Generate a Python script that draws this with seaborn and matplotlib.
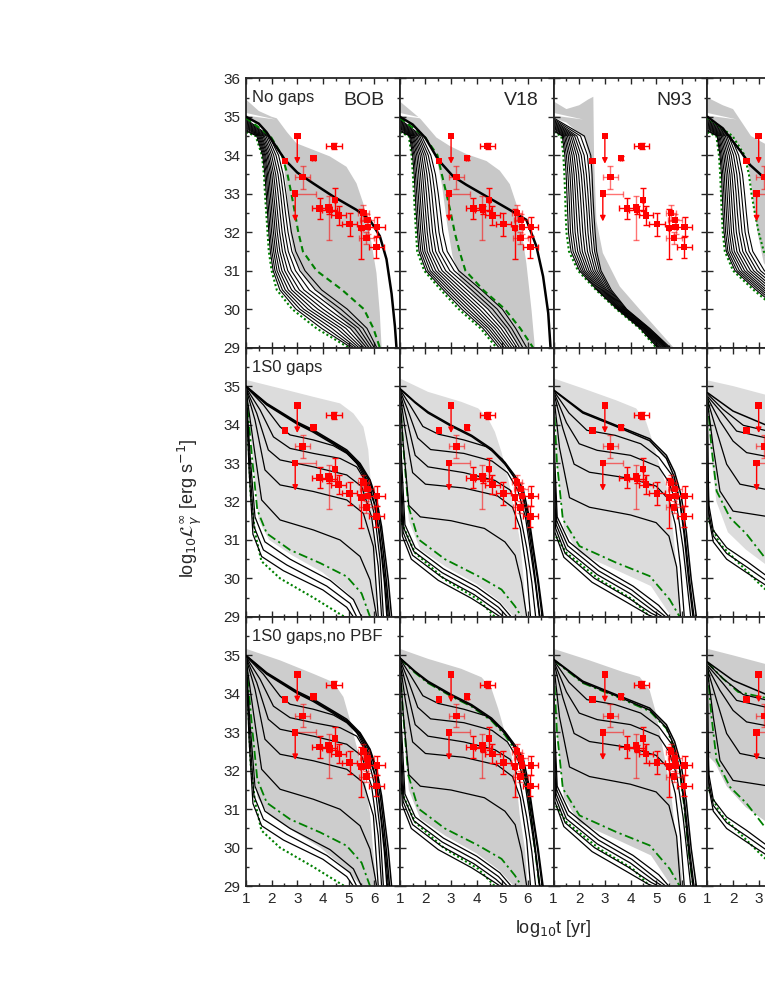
import numpy as np
import pandas as pd
import seaborn as sns
import matplotlib.pyplot as plt
from matplotlib.ticker import MultipleLocator, FuncFormatter

# ---------------- dados ----------------
# Linha 1 (No gaps): para cada curva, L em t=10 anos seguido do log t
# em que a curva cruza cada nivel de "levels"
levels = [34.5, 34.0, 33.5, 33.0, 32.5, 32.0, 31.5, 31.0, 30.5, 30.0, 29.5, 29.0]

bob_nogap = [
    [34.63, 1.42, 1.65, 1.74, 1.79, 1.84, 1.89, 1.95, 2.06, 2.32, 2.95, 3.95, 5.1],
    [34.66, 1.46, 1.69, 1.79, 1.84, 1.89, 1.94, 2.01, 2.13, 2.42, 3.1, 4.15, 5.2],
    [34.70, 1.5, 1.73, 1.84, 1.89, 1.95, 2.0, 2.08, 2.21, 2.53, 3.25, 4.35, 5.3],
    [34.73, 1.54, 1.77, 1.89, 1.95, 2.01, 2.07, 2.15, 2.3, 2.65, 3.42, 4.55, 5.4],
    [34.76, 1.58, 1.82, 1.95, 2.01, 2.08, 2.14, 2.23, 2.4, 2.78, 3.6, 4.72, 5.5],
    [34.79, 1.62, 1.87, 2.01, 2.08, 2.15, 2.22, 2.32, 2.51, 2.92, 3.8, 4.9, 5.6],
    [34.82, 1.67, 1.93, 2.08, 2.16, 2.23, 2.31, 2.42, 2.63, 3.08, 4.0, 5.07, 5.7],
    [34.85, 1.72, 2.0, 2.16, 2.25, 2.33, 2.41, 2.53, 2.77, 3.26, 4.22, 5.24, 5.8],
    [34.88, 1.78, 2.08, 2.25, 2.35, 2.43, 2.52, 2.65, 2.93, 3.47, 4.45, 5.4, 5.9],
    [34.91, 1.84, 2.17, 2.35, 2.45, 2.54, 2.64, 2.79, 3.1, 3.7, 4.7, 5.56, 6.0],
    [34.94, 1.9, 2.27, 2.45, 2.56, 2.66, 2.77, 2.94, 3.3, 3.95, 4.95, 5.72, 6.1],
]
bob_nogap_dotted = [34.6, 1.38, 1.62, 1.70, 1.74, 1.79, 1.84, 1.89, 2.0, 2.2, 2.8, 3.75, 5.0]
bob_nogap_dashed = [34.97, 1.95, 2.4, 2.62, 2.77, 2.91, 3.04, 3.22, 3.75, 4.75, 5.6, 5.97, 6.22]
bob_nogap_thick = [(1, 35.0), (1.5, 34.82), (1.8, 34.6), (2.1, 34.3), (2.52, 33.88), (3.0, 33.55),
                   (3.62, 33.27), (4.4, 32.93), (5.31, 32.58), (5.83, 32.32), (6.22, 31.9),
                   (6.48, 31.3), (6.68, 30.4), (6.81, 29.55), (6.87, 29.0)]

v18_nogap = [
    [34.63, 1.38, 1.5, 1.56, 1.6, 1.64, 1.69, 1.75, 2.02, 2.7, 3.42, 4.25, 4.87],
    [34.66, 1.41, 1.55, 1.61, 1.66, 1.7, 1.75, 1.82, 2.1, 2.8, 3.55, 4.36, 4.97],
    [34.70, 1.44, 1.6, 1.67, 1.72, 1.77, 1.82, 1.9, 2.19, 2.92, 3.68, 4.47, 5.07],
    [34.73, 1.48, 1.66, 1.74, 1.79, 1.84, 1.9, 1.98, 2.29, 3.04, 3.82, 4.58, 5.17],
    [34.76, 1.52, 1.72, 1.81, 1.87, 1.92, 1.98, 2.07, 2.4, 3.17, 3.96, 4.7, 5.27],
    [34.79, 1.56, 1.79, 1.89, 1.95, 2.01, 2.07, 2.17, 2.52, 3.31, 4.11, 4.82, 5.37],
    [34.82, 1.61, 1.86, 1.97, 2.04, 2.1, 2.17, 2.28, 2.65, 3.46, 4.27, 4.95, 5.47],
    [34.85, 1.66, 1.94, 2.06, 2.14, 2.21, 2.28, 2.4, 2.79, 3.62, 4.44, 5.08, 5.57],
    [34.88, 1.72, 2.02, 2.16, 2.25, 2.32, 2.4, 2.53, 2.95, 3.8, 4.62, 5.22, 5.67],
    [34.91, 1.78, 2.11, 2.27, 2.37, 2.45, 2.53, 2.68, 3.12, 3.98, 4.8, 5.36, 5.8],
    [34.94, 1.85, 2.21, 2.39, 2.5, 2.59, 2.68, 2.85, 3.3, 4.18, 5.0, 5.52, 5.95],
]
v18_nogap_dotted = [34.6, 1.35, 1.46, 1.51, 1.55, 1.59, 1.63, 1.68, 1.95, 2.6, 3.3, 4.15, 4.77]
v18_nogap_dashed = [34.97, 1.95, 2.47, 2.64, 2.82, 2.99, 3.14, 3.33, 3.56, 4.25, 5.1, 5.7, 6.2]
v18_nogap_thick = [(1, 35.0), (1.5, 34.8), (2.0, 34.45), (2.5, 33.88), (3.08, 33.45), (3.6, 33.23),
                   (4.38, 32.93), (5.29, 32.58), (5.94, 32.32), (6.33, 31.63), (6.59, 30.85),
                   (6.79, 29.9), (6.88, 29.0)]

n93_nogap = [
    [34.63, 1.34, 1.44, 1.49, 1.52, 1.55, 1.58, 1.68, 2.01, 2.69, 3.48, 4.38, 5.05],
    [34.66, 1.38, 1.5, 1.56, 1.6, 1.63, 1.66, 1.76, 2.08, 2.73, 3.51, 4.41, 5.1],
    [34.70, 1.43, 1.57, 1.64, 1.68, 1.71, 1.75, 1.85, 2.15, 2.78, 3.55, 4.45, 5.14],
    [34.73, 1.48, 1.64, 1.72, 1.76, 1.8, 1.84, 1.94, 2.22, 2.83, 3.58, 4.48, 5.19],
    [34.76, 1.54, 1.72, 1.8, 1.85, 1.89, 1.94, 2.03, 2.3, 2.88, 3.61, 4.51, 5.23],
    [34.79, 1.6, 1.8, 1.89, 1.94, 1.99, 2.04, 2.12, 2.38, 2.93, 3.64, 4.54, 5.28],
    [34.82, 1.67, 1.89, 1.98, 2.04, 2.09, 2.14, 2.22, 2.46, 2.98, 3.68, 4.58, 5.32],
    [34.85, 1.74, 1.98, 2.08, 2.14, 2.19, 2.24, 2.32, 2.54, 3.03, 3.71, 4.61, 5.37],
    [34.88, 1.82, 2.08, 2.18, 2.24, 2.3, 2.34, 2.42, 2.62, 3.08, 3.75, 4.65, 5.41],
    [34.91, 1.91, 2.19, 2.28, 2.34, 2.39, 2.44, 2.51, 2.7, 3.14, 3.78, 4.68, 5.46],
    [34.94, 2.05, 2.32, 2.39, 2.44, 2.48, 2.53, 2.6, 2.78, 3.19, 3.82, 4.72, 5.5],
    [34.97, 2.2, 2.45, 2.5, 2.53, 2.57, 2.62, 2.68, 2.85, 3.25, 3.85, 4.75, 5.55],
]
n93_nogap_dotted = [34.6, 1.3, 1.38, 1.42, 1.45, 1.47, 1.5, 1.6, 1.95, 2.65, 3.45, 4.35, 5.0]

c4_nogap = [
    [34.63, 1.38, 1.49, 1.55, 1.58, 1.61, 1.65, 1.74, 2.08, 2.9, 3.8, 4.6, 5.2],
    [34.66, 1.41, 1.53, 1.6, 1.64, 1.67, 1.71, 1.8, 2.16, 3.0, 3.9, 4.7, 5.3],
    [34.70, 1.45, 1.58, 1.66, 1.7, 1.74, 1.78, 1.88, 2.25, 3.1, 4.0, 4.8, 5.4],
    [34.73, 1.49, 1.64, 1.73, 1.77, 1.81, 1.86, 1.96, 2.35, 3.2, 4.1, 4.9, 5.5],
    [34.76, 1.54, 1.7, 1.8, 1.85, 1.89, 1.94, 2.05, 2.45, 3.3, 4.2, 5.0, 5.6],
    [34.79, 1.59, 1.77, 1.88, 1.93, 1.98, 2.03, 2.15, 2.56, 3.42, 4.3, 5.1, 5.7],
    [34.82, 1.64, 1.85, 1.96, 2.02, 2.07, 2.13, 2.26, 2.68, 3.54, 4.4, 5.2, 5.8],
    [34.85, 1.7, 1.93, 2.05, 2.12, 2.17, 2.24, 2.38, 2.8, 3.66, 4.5, 5.3, 5.9],
    [34.88, 1.76, 2.02, 2.15, 2.22, 2.28, 2.35, 2.5, 2.93, 3.8, 4.6, 5.4, 6.0],
    [34.91, 1.83, 2.12, 2.26, 2.33, 2.4, 2.47, 2.63, 3.07, 3.95, 4.7, 5.5, 6.1],
    [34.94, 1.9, 2.22, 2.37, 2.45, 2.52, 2.6, 2.77, 3.22, 4.1, 4.8, 5.6, 6.2],
]
c4_nogap_dotted = [34.6, 1.35, 1.45, 1.5, 1.53, 1.56, 1.6, 1.68, 2.0, 2.8, 3.7, 4.5, 5.1]
c4_nogap_right = [34.97, 1.98, 2.45, 2.62, 2.72, 2.85, 3.0, 3.2, 3.6, 4.3, 5.0, 5.7, 6.3]
c4_nogap_thick = [(1, 35.0), (1.6, 34.7), (2.3, 34.1), (2.66, 33.75), (3.24, 33.4), (3.6, 33.2)]

# Linhas 2 e 3 (1S0 gaps): curvas como listas de pontos (log t, log L)
bob_gap_bundle = [
    [(1, 35.0), (1.81, 34.55), (2.98, 34.07), (3.63, 33.86), (4.41, 33.55), (4.93, 33.34), (5.45, 32.99),
     (5.84, 32.56), (6.1, 32.04), (6.29, 31.35), (6.42, 30.66), (6.55, 29.96), (6.68, 29.0)],
    [(1, 34.99), (1.81, 34.53), (2.98, 34.04), (3.63, 33.83), (4.41, 33.52), (4.93, 33.3), (5.45, 32.95),
     (5.84, 32.5), (6.08, 31.98), (6.25, 31.3), (6.37, 30.6), (6.48, 29.9), (6.6, 29.0)],
    [(1, 34.98), (1.81, 34.51), (2.98, 34.02), (3.63, 33.8), (4.41, 33.49), (4.93, 33.27), (5.45, 32.9),
     (5.8, 32.45), (6.03, 31.9), (6.18, 31.25), (6.29, 30.6), (6.4, 29.9), (6.5, 29.0)],
]
bob_gap_curves = [
    [(1, 34.98), (1.68, 34.51), (2.33, 33.94), (2.72, 33.73), (3.63, 33.6), (4.41, 33.45), (4.93, 33.25),
     (5.32, 33.0), (5.71, 32.5), (6.0, 31.95), (6.2, 31.2), (6.33, 30.5), (6.45, 29.8), (6.55, 29.0)],
    [(1, 34.96), (1.55, 34.38), (2.07, 33.68), (2.72, 33.38), (3.63, 33.25), (4.67, 33.12), (5.32, 32.9),
     (5.71, 32.47), (6.03, 31.6), (6.23, 30.48), (6.36, 29.0)],
    [(1, 34.94), (1.42, 34.29), (1.87, 33.34), (2.33, 33.08), (3.63, 32.9), (4.93, 32.69), (5.51, 32.39),
     (5.9, 31.6), (6.16, 30.31), (6.29, 29.0)],
    [(1, 34.93), (1.35, 34.12), (1.74, 32.82), (2.33, 32.43), (3.63, 32.26), (4.93, 32.04), (5.58, 31.69),
     (5.97, 30.83), (6.16, 29.0)],
    [(1, 34.91), (1.29, 33.51), (1.61, 32.04), (2.33, 31.52), (3.63, 31.26), (4.67, 31.0), (5.45, 30.57),
     (5.84, 29.96), (6.1, 29.0)],
    [(1, 34.88), (1.16, 33.2), (1.35, 31.6), (1.74, 30.95), (2.72, 30.5), (4.28, 29.95), (5.19, 29.45), (5.51, 29.0)],
    [(1, 34.86), (1.14, 33.0), (1.31, 31.35), (1.68, 30.74), (2.59, 30.35), (4.15, 29.8), (5.06, 29.35), (5.32, 29.0)],
    [(1, 34.84), (1.12, 32.8), (1.27, 31.15), (1.61, 30.57), (2.46, 30.2), (4.0, 29.7), (4.93, 29.25), (5.19, 29.0)],
]
bob_gap_dashdot = [(1, 34.9), (1.22, 33.25), (1.44, 31.78), (1.81, 31.17), (2.72, 30.74), (3.89, 30.4),
                   (4.93, 30.05), (5.51, 29.61), (5.84, 29.0)]
bob_gap_dotted = [(1, 34.8), (1.08, 33.8), (1.18, 32.2), (1.35, 31.2), (1.6, 30.45), (2.33, 30.0),
                  (3.63, 29.5), (4.6, 29.1), (4.85, 29.0)]

v18_gap_bundle = [
    [(1, 34.94), (1.59, 34.59), (2.1, 34.33), (3.02, 33.98), (3.8, 33.72), (4.58, 33.37), (5.1, 33.02),
     (5.49, 32.67), (5.81, 32.33), (6.01, 31.72), (6.2, 30.84), (6.4, 29.97), (6.59, 29.0)],
    [(1, 34.93), (1.59, 34.57), (2.1, 34.3), (3.02, 33.95), (3.8, 33.69), (4.58, 33.33), (5.1, 32.97),
     (5.49, 32.6), (5.78, 32.2), (5.96, 31.6), (6.13, 30.8), (6.3, 29.9), (6.46, 29.0)],
]
v18_gap_curves = [
    [(1, 34.92), (1.4, 34.5), (1.9, 33.95), (2.5, 33.75), (3.5, 33.6), (4.4, 33.42), (5.0, 33.1), (5.4, 32.7),
     (5.75, 32.3), (5.98, 31.7), (6.17, 30.85), (6.37, 29.97), (6.55, 29.0)],
    [(1, 34.9), (1.3, 34.4), (1.7, 33.65), (2.2, 33.35), (3.5, 33.25), (4.6, 33.05), (5.2, 32.75), (5.6, 32.3),
     (5.9, 31.6), (6.1, 30.7), (6.3, 29.8), (6.45, 29.0)],
    [(1, 34.88), (1.25, 34.2), (1.6, 33.2), (2.1, 32.9), (3.5, 32.75), (4.7, 32.55), (5.3, 32.3), (5.65, 31.8),
     (5.95, 30.8), (6.15, 29.9), (6.3, 29.0)],
    [(1, 34.86), (1.2, 33.9), (1.5, 32.75), (2.0, 32.45), (3.5, 32.35), (4.8, 32.15), (5.4, 31.85), (5.7, 31.3),
     (5.95, 30.2), (6.1, 29.0)],
    [(1, 34.84), (1.12, 33.6), (1.35, 31.9), (1.8, 31.6), (3.0, 31.5), (4.3, 31.3), (5.1, 30.95), (5.5, 30.6),
     (5.75, 29.9), (5.95, 29.0)],
    [(1, 34.75), (1.06, 33.2), (1.2, 31.4), (1.6, 30.8), (2.7, 30.25), (4.0, 29.78), (4.9, 29.35), (5.35, 29.0)],
    [(1, 34.5), (1.05, 32.8), (1.16, 31.3), (1.55, 30.7), (2.65, 30.15), (3.95, 29.68), (4.85, 29.25), (5.2, 29.0)],
    [(1, 34.0), (1.05, 32.3), (1.13, 31.2), (1.5, 30.6), (2.6, 30.05), (3.9, 29.58), (4.75, 29.18), (5.05, 29.0)],
    [(1, 33.3), (1.05, 31.8), (1.1, 31.1), (1.45, 30.5), (2.5, 29.95), (3.8, 29.48), (4.65, 29.12), (4.92, 29.0)],
]
v18_gap_dashdot = [(1, 34.76), (1.13, 33.46), (1.33, 31.89), (1.72, 31.02), (2.76, 30.5), (4.06, 30.06),
                   (4.97, 29.71), (5.49, 29.28), (5.75, 29.0)]
v18_gap_dotted = [(1, 31.55), (1.59, 30.67), (2.76, 29.97), (4.06, 29.45), (4.71, 29.0)]

n93_gap_bundle = [
    [(1, 34.9), (2.14, 34.33), (3.44, 33.98), (4.75, 33.63), (5.4, 33.2), (5.72, 32.76), (5.98, 32.15),
     (6.18, 31.19), (6.37, 29.97), (6.57, 29.0)],
    [(1, 34.89), (2.14, 34.3), (3.44, 33.95), (4.75, 33.58), (5.4, 33.12), (5.7, 32.65), (5.93, 32.0),
     (6.1, 31.1), (6.27, 29.95), (6.44, 29.0)],
]
n93_gap_curves = [
    [(1, 34.88), (1.6, 34.3), (2.3, 33.85), (3.4, 33.72), (4.4, 33.5), (5.1, 33.15), (5.6, 32.7), (5.9, 32.1),
     (6.12, 31.15), (6.3, 30.0), (6.48, 29.0)],
    [(1, 34.86), (1.5, 34.05), (2.0, 33.5), (2.7, 33.33), (4.0, 33.2), (5.1, 32.9), (5.5, 32.5), (5.8, 31.9),
     (6.05, 30.8), (6.2, 29.9), (6.35, 29.0)],
    [(1, 34.84), (1.36, 33.9), (1.8, 32.97), (2.4, 32.76), (4.0, 32.6), (5.0, 32.4), (5.5, 32.05), (5.75, 31.4),
     (5.95, 30.3), (6.1, 29.0)],
    [(1, 34.8), (1.23, 33.4), (1.62, 32.1), (2.4, 31.85), (4.0, 31.65), (5.0, 31.45), (5.5, 31.1), (5.8, 30.3),
     (5.95, 29.0)],
    [(1, 34.7), (1.05, 33.0), (1.14, 31.6), (1.6, 30.95), (2.8, 30.3), (4.1, 29.8), (5.1, 29.3), (5.5, 29.0)],
    [(1, 34.2), (1.05, 32.5), (1.12, 31.5), (1.55, 30.85), (2.75, 30.2), (4.05, 29.7), (5.0, 29.2), (5.38, 29.0)],
    [(1, 33.6), (1.05, 32.0), (1.1, 31.4), (1.5, 30.75), (2.7, 30.1), (4.0, 29.6), (4.9, 29.15), (5.25, 29.0)],
    [(1, 33.0), (1.04, 31.8), (1.08, 31.3), (1.45, 30.65), (2.6, 30.0), (3.9, 29.5), (4.8, 29.1), (5.1, 29.0)],
    [(1, 32.3), (1.05, 31.2), (1.4, 30.55), (2.5, 29.9), (3.8, 29.4), (4.7, 29.05), (4.9, 29.0)],
]
n93_gap_dashdot = [(1, 34.68), (1.13, 33.02), (1.36, 31.54), (2.01, 30.84), (3.44, 30.41), (4.75, 30.06),
                   (5.53, 29.45), (5.92, 29.0)]
n93_gap_dotted = [(1, 31.19), (1.49, 30.67), (2.79, 29.97), (4.09, 29.45), (4.75, 29.0)]

c4_gap_bundle = [[(1, 34.83), (2.0, 34.35), (3.24, 34.0), (3.6, 33.9)]]
c4_gap_curves = [
    [(1, 34.8), (1.6, 34.4), (2.4, 33.98), (3.24, 33.85), (3.6, 33.8)],
    [(1, 34.74), (1.62, 34.26), (2.14, 33.83), (3.24, 33.66), (3.6, 33.6)],
    [(1, 34.7), (1.49, 34.09), (2.0, 33.57), (2.53, 33.27), (3.24, 33.18), (3.6, 33.15)],
    [(1, 34.65), (1.36, 33.83), (1.75, 32.97), (2.27, 32.45), (3.24, 32.32), (3.6, 32.28)],
    [(1, 34.6), (1.23, 33.4), (1.49, 32.27), (2.0, 31.75), (3.24, 31.62), (3.6, 31.58)],
    [(1, 34.6), (1.02, 33.0), (1.06, 31.9), (1.23, 31.25), (1.75, 30.8), (2.53, 30.45), (3.24, 30.1), (3.6, 29.95)],
    [(1, 34.4), (1.02, 32.5), (1.06, 31.7), (1.23, 31.1), (1.75, 30.65), (2.53, 30.3), (3.24, 29.97), (3.6, 29.82)],
    [(1, 33.8), (1.03, 32.0), (1.06, 31.55), (1.23, 30.95), (1.75, 30.5), (2.53, 30.15), (3.24, 29.84), (3.6, 29.7)],
]
c4_gap_dashdot = [(1, 34.7), (1.16, 33.4), (1.36, 32.27), (1.88, 31.58), (2.53, 31.15), (3.24, 30.54), (3.6, 30.3)]
c4_gap_dotted = [(1, 31.58), (1.49, 30.89), (2.27, 30.37), (3.18, 29.76), (3.6, 29.55)]

# linha 3: traco-ponto verde que acompanha o feixe superior
v18_nopbf_top = [(1, 34.92), (1.59, 34.55), (2.1, 34.28), (3.02, 33.93), (3.8, 33.67), (4.58, 33.3),
                 (5.1, 32.93), (5.49, 32.55), (5.78, 32.15), (5.96, 31.5), (6.13, 30.7), (6.3, 29.8), (6.45, 29.0)]
n93_nopbf_top = [(1, 34.88), (2.14, 34.28), (3.44, 33.93), (4.75, 33.55), (5.4, 33.1), (5.7, 32.6),
                 (5.93, 31.95), (6.1, 31.05), (6.27, 29.9), (6.44, 29.0)]
c4_nopbf_top = [(1, 34.82), (1.6, 34.4), (2.2, 34.05), (3.24, 33.9), (3.6, 33.85)]

# regioes cinzas (contorno do poligono)
gray_r1_bob = [(1, 35.45), (1.5, 35.15), (2.0, 35.0), (2.2, 34.96), (2.6, 34.6), (2.97, 34.31), (3.62, 34.14),
               (4.27, 33.97), (4.92, 33.7), (5.31, 33.27), (5.57, 32.76), (5.83, 31.98), (6.09, 30.94),
               (6.22, 29.9), (6.29, 29.0), (5.5, 29.0), (5.3, 29.3), (4.7, 29.8), (4.0, 30.3), (3.3, 30.8),
               (2.9, 31.3), (2.72, 32.0), (2.6, 33.0), (2.45, 33.9), (2.1, 34.3), (1.8, 34.6), (1.4, 34.85), (1, 35.0)]
gray_r1_v18 = [(1, 35.4), (1.5, 35.12), (1.8, 34.95), (2.43, 34.46), (2.95, 34.24), (3.6, 34.03), (4.38, 33.85),
               (4.9, 33.6), (5.29, 33.25), (5.55, 32.73), (5.75, 32.04), (5.94, 31.18), (6.14, 29.97), (6.27, 29.0),
               (5.7, 29.0), (5.3, 29.35), (4.6, 29.9), (3.9, 30.35), (3.35, 30.8), (3.05, 31.4), (2.85, 32.2),
               (2.65, 33.2), (2.45, 33.88), (2.0, 34.45), (1.5, 34.8), (1, 35.0)]
gray_r1_n93 = [(1, 35.4), (1.5, 35.2), (2.0, 35.3), (2.35, 35.45), (2.55, 35.52), (2.58, 33.9), (2.67, 32.3),
               (2.92, 31.46), (3.58, 30.59), (4.48, 29.9), (5.68, 29.0), (5.5, 29.0), (4.7, 29.5),
               (3.8, 30.0), (3.2, 30.5), (2.8, 31.0), (2.62, 31.5), (2.55, 32.0), (2.48, 33.0),
               (2.42, 33.9), (2.2, 34.45), (1.5, 34.85), (1, 34.97)]
gray_r1_c4 = [(1, 35.5), (1.6, 35.3), (2.0, 35.2), (2.4, 34.8), (2.7, 34.5), (3.24, 34.3), (3.6, 34.15),
              (3.6, 30.8), (3.2, 31.2), (2.95, 32.0), (2.75, 33.0), (2.6, 33.7), (2.35, 34.15), (1.8, 34.6),
              (1.4, 34.85), (1, 34.97)]
sliver_r1 = [(1, 35.03), (2.15, 34.93), (1, 35.1)]

gray_r2_bob = [(1, 35.16), (2.33, 34.94), (3.63, 34.72), (4.67, 34.55), (5.19, 34.29), (5.58, 33.94), (5.77, 33.34),
               (5.9, 32.21), (6.03, 30.83), (6.1, 29.0), (5.6, 29.0), (5.0, 29.6), (4.0, 30.15), (2.8, 30.6),
               (1.9, 31.0), (1.5, 31.5), (1.3, 32.8), (1.12, 34.2), (1, 34.9)]
gray_r2_v18 = [(1, 35.2), (2.1, 34.85), (3.4, 34.59), (4.06, 34.42), (4.45, 34.15), (4.71, 33.81), (4.97, 33.28),
               (5.23, 32.59), (5.49, 31.72), (5.68, 31.02), (5.81, 30.15), (5.94, 29.0), (5.45, 29.0), (4.9, 29.4),
               (4.0, 29.85), (2.8, 30.3), (1.8, 30.75), (1.35, 31.5), (1.15, 33.0), (1.03, 34.5), (1, 34.8)]
gray_r2_n93 = [(1, 35.2), (2.14, 34.94), (3.44, 34.63), (4.22, 34.42), (4.61, 34.07), (4.87, 33.55), (5.13, 32.94),
               (5.4, 32.41), (5.59, 31.72), (5.72, 30.84), (5.85, 29.97), (5.98, 29.0), (5.6, 29.0), (4.8, 29.8),
               (3.5, 30.2), (2.0, 30.65), (1.4, 31.3), (1.15, 32.8), (1.03, 34.4), (1, 34.7)]
gray_r2_c4 = [(1, 35.15), (2.0, 35.0), (3.24, 34.78), (3.6, 34.7), (3.6, 30.2), (2.5, 30.75), (1.8, 31.2),
              (1.35, 32.0), (1.1, 33.5), (1, 34.6)]
gray_r3_bob = [(1, 35.17), (2.33, 34.87), (3.63, 34.52), (4.41, 34.3), (4.8, 33.92), (5.06, 33.31), (5.32, 32.62),
               (5.64, 31.75), (5.84, 30.89), (5.97, 29.85), (6.1, 29.0), (5.5, 29.0), (4.8, 29.5), (3.9, 30.0),
               (2.8, 30.45), (1.9, 30.85), (1.45, 31.3), (1.22, 32.5), (1.08, 34.0), (1, 34.5)]
gray_r3_v18 = [(1, 35.17), (2.1, 34.91), (3.4, 34.65), (4.19, 34.43), (4.58, 34.13), (4.84, 33.61), (5.1, 33.0),
               (5.36, 32.4), (5.55, 31.71), (5.68, 30.84), (5.88, 29.98), (6.0, 29.0), (5.45, 29.0), (4.9, 29.4),
               (4.0, 29.85), (2.8, 30.3), (1.8, 30.75), (1.35, 31.5), (1.15, 33.0), (1.03, 34.5), (1, 34.8)]
gray_r3_n93 = [(1, 35.17), (2.4, 34.87), (3.7, 34.57), (4.36, 34.44), (4.75, 34.09), (5.0, 33.49), (5.2, 32.8),
               (5.4, 32.1), (5.59, 31.4), (5.72, 30.55), (5.92, 29.76), (6.05, 29.0), (5.6, 29.0), (4.8, 29.8),
               (3.5, 30.2), (2.0, 30.65), (1.4, 31.3), (1.15, 32.8), (1.03, 34.4), (1, 34.7)]
gray_r3_c4 = [(1, 35.17), (2.0, 35.0), (3.24, 34.78), (3.6, 34.7), (3.6, 30.5), (3.24, 30.7), (2.5, 31.05),
              (1.75, 31.6), (1.3, 32.2), (1, 32.4)]

# fontes observacionais
obs_x = [2.52, 3.00, 4.43, 3.63, 3.21, 2.92, 3.87, 4.22, 4.25, 4.48, 4.61, 5.04, 5.58, 5.73, 5.50, 5.76, 5.70, 6.11, 6.09]
obs_y = [33.85, 34.50, 34.24, 33.93, 33.43, 33.00, 32.62, 32.66, 32.58, 32.84, 32.44, 32.21, 32.50, 32.32, 32.11,
         32.14, 31.85, 32.14, 31.61]
obs_xlo = [0, 0, 0.3, 0.05, 0.3, 0, 0.3, 0.05, 0.3, 0.05, 0.28, 0.3, 0.2, 0.27, 0.05, 0.05, 0.3, 0.3, 0.29]
obs_xhi = [0, 0, 0.3, 0.05, 0.3, 0.8, 0.3, 0.05, 0.3, 0.05, 0.28, 0.3, 0.2, 0.27, 0.05, 0.05, 0.3, 0.3, 0.29]
obs_ylo = [0, 0, 0.09, 0.06, 0.3, 0, 0.28, 0.86, 0.1, 0.3, 0.25, 0.3, 0.2, 0.15, 0.8, 0.2, 0.15, 0.25, 0.27]
obs_yhi = [0, 0, 0.09, 0.06, 0.3, 0, 0.28, 0.29, 0.1, 0.3, 0.25, 0.3, 0.2, 0.15, 0.5, 0.2, 0.15, 0.25, 0.27]
obs_limit = [1, 5]          # limites superiores (seta para baixo)
obs_faded = [4, 5, 7, 12, 13, 15, 16]
limit_len = 0.72

row_labels = ['No gaps', '1S0 gaps', '1S0 gaps,no PBF']
model_titles = ['BOB', 'V18', 'N93', '']

# ---------------- funcoes ----------------
def level_frame(table):
    rows = []
    for k, row in enumerate(table):
        rows.append((k, 1.0, row[0]))
        for x, lv in zip(row[1:], levels):
            if lv < row[0]:
                rows.append((k, x, lv))
    return pd.DataFrame(rows, columns=['curve', 'x', 'y'])


def point_frame(curves):
    rows = [(k, x, y) for k, c in enumerate(curves) for x, y in c]
    return pd.DataFrame(rows, columns=['curve', 'x', 'y'])


def draw(ax, df, **kw):
    sns.lineplot(data=df, x='x', y='y', units='curve', estimator=None, sort=False,
                 ax=ax, legend=False, **kw)


GREEN = '#008000'
DASHDOT = (0, (5, 2, 1.2, 2))
DOTTED = (0, (1, 1.2))
DASHED = (0, (3, 2))

sns.set_style('ticks')
plt.rcParams['font.family'] = ['Liberation Sans', 'DejaVu Sans']
plt.rcParams['mathtext.fontset'] = 'dejavusans'

fig = plt.figure(figsize=(7.65, 9.9), dpi=100)
W, H = 765, 990
col_left = [246 + 153.8 * c for c in range(4)]
row_top = [78.3, 347.6, 616.9]
pw, ph = 153.8, 269.3

grays = [[gray_r1_bob, gray_r1_v18, gray_r1_n93, gray_r1_c4],
         [gray_r2_bob, gray_r2_v18, gray_r2_n93, gray_r2_c4],
         [gray_r3_bob, gray_r3_v18, gray_r3_n93, gray_r3_c4]]
gray_colors = ['#c8c8c8', '#dcdcdc', '#cdcdcd']
nogap_sets = [(bob_nogap, bob_nogap_dotted, bob_nogap_dashed, DASHED, bob_nogap_thick),
              (v18_nogap, v18_nogap_dotted, v18_nogap_dashed, DASHED, v18_nogap_thick),
              (n93_nogap, n93_nogap_dotted, None, None, None),
              (c4_nogap, c4_nogap_dotted, c4_nogap_right, DOTTED, c4_nogap_thick)]
gap_sets = [(bob_gap_bundle, bob_gap_curves, bob_gap_dashdot, bob_gap_dotted, None),
            (v18_gap_bundle, v18_gap_curves, v18_gap_dashdot, v18_gap_dotted, v18_nopbf_top),
            (n93_gap_bundle, n93_gap_curves, n93_gap_dashdot, n93_gap_dotted, n93_nopbf_top),
            (c4_gap_bundle, c4_gap_curves, c4_gap_dashdot, c4_gap_dotted, c4_nopbf_top)]

for r in range(3):
    for c in range(4):
        ax = fig.add_axes([col_left[c] / W, 1 - (row_top[r] + ph) / H, pw / W, ph / H])
        gx, gy = zip(*grays[r][c])
        ax.fill(gx, gy, color=gray_colors[r], lw=0, zorder=0)

        if r == 0:
            sx, sy = zip(*sliver_r1)
            ax.fill(sx, sy, color='white', lw=0, zorder=0.5)
            fam, dotted, right, right_ls, thick = nogap_sets[c]
            draw(ax, level_frame([dotted]), color=GREEN, lw=1.5, linestyle=DOTTED, zorder=2)
            draw(ax, level_frame(fam), color='black', lw=0.8, zorder=2.5)
            if right is not None:
                draw(ax, level_frame([right]), color=GREEN, lw=1.5, linestyle=right_ls, zorder=2.6)
            if thick is not None:
                draw(ax, point_frame([thick]), color='black', lw=1.8, zorder=2.7)
        else:
            bundle, curves, dashdot, dotted, top = gap_sets[c]
            draw(ax, point_frame([dotted]), color=GREEN, lw=1.5, linestyle=DOTTED, zorder=2)
            draw(ax, point_frame([dashdot]), color=GREEN, lw=1.3, linestyle=DASHDOT, zorder=2)
            if r == 2 and top is not None:
                draw(ax, point_frame([top]), color=GREEN, lw=1.3, linestyle=DASHDOT, zorder=2)
            draw(ax, point_frame(curves), color='black', lw=0.9, zorder=2.5)
            draw(ax, point_frame(bundle), color='black', lw=1.1, zorder=2.6)

        # dados observacionais
        for i in range(len(obs_x)):
            a = 0.55 if i in obs_faded else 1.0
            if i in obs_limit:
                ax.annotate('', xy=(obs_x[i], obs_y[i] - limit_len), xytext=(obs_x[i], obs_y[i]),
                            arrowprops=dict(arrowstyle='-|>', color='red', lw=1.0, mutation_scale=8,
                                            shrinkA=0, shrinkB=0), zorder=4)
            ax.errorbar(obs_x[i], obs_y[i],
                        xerr=[[obs_xlo[i]], [obs_xhi[i]]] if obs_xhi[i] > 0 else None,
                        yerr=[[obs_ylo[i]], [obs_yhi[i]]] if obs_yhi[i] > 0 else None,
                        fmt='none', ecolor='red', elinewidth=1.0, capsize=2.2, alpha=a, zorder=4)
        sns.scatterplot(x=obs_x, y=obs_y, marker='s', color='red', s=22, edgecolor='none',
                        ax=ax, zorder=5, legend=False)

        ax.set_xlim(1, 7)
        ax.set_ylim(29, 36)
        ax.set_xlabel('')
        ax.set_ylabel('')
        ax.xaxis.set_major_locator(MultipleLocator(1))
        ax.xaxis.set_minor_locator(MultipleLocator(0.5))
        ax.yaxis.set_major_locator(MultipleLocator(1))
        ax.yaxis.set_minor_locator(MultipleLocator(0.5))
        ax.tick_params(which='both', direction='in', top=True, right=True, width=1, labelsize=11,
                       pad=4)
        ax.tick_params(which='major', length=4.5)
        ax.tick_params(which='minor', length=2.5)
        for s in ax.spines.values():
            s.set_linewidth(1.3)
        if r == 2:
            # a ultima coluna sai da figura: so os rotulos que cabem
            xmax_label = 3.5 if c == 3 else 6.5
            ax.xaxis.set_major_formatter(
                FuncFormatter(lambda v, p, m=xmax_label: '' if v > m else f'{v:.0f}'))
        else:
            ax.tick_params(labelbottom=False)
        if c == 0:
            if r == 0:
                ax.yaxis.set_major_formatter(FuncFormatter(lambda v, p: f'{v:.0f}'))
            else:
                ax.yaxis.set_major_formatter(FuncFormatter(lambda v, p: '' if v > 35.5 else f'{v:.0f}'))
        else:
            ax.tick_params(labelleft=False)

        if c == 0:
            ax.text(0.04, 0.955, row_labels[r], transform=ax.transAxes, ha='left', va='top', fontsize=12)
        if r == 0 and model_titles[c]:
            ax.text(0.9, 0.948, model_titles[c], transform=ax.transAxes, ha='right', va='top', fontsize=14)

fig.text(0.248, 0.487, r'log$_{10}\mathcal{L}^{\infty}_{\gamma}$ [erg s$^{-1}$]', rotation=90,
         ha='center', va='center', fontsize=13)
fig.text(553.6 / W, 0.062, r'log$_{10}$t [yr]', ha='center', va='center', fontsize=13)

fig.savefig('out.png', dpi=100)
